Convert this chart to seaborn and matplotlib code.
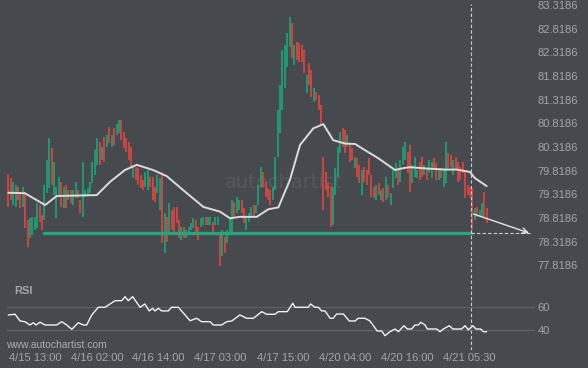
import numpy as np
import matplotlib
matplotlib.use('Agg')
import matplotlib.pyplot as plt
import seaborn as sns

# ── Candle data (30-min bars): high, low, rising(1)/falling(0) ──
highs = [79.74, 79.66, 79.58, 79.51, 79.47, 79.37, 79.47, 79.37, 78.77, 78.82,
         78.84, 78.84, 79.13, 79.09, 78.88, 79.51, 80.04, 80.51, 80.30, 80.00,
         79.47, 79.68, 79.58, 79.47, 79.51, 79.41, 79.41, 79.41, 79.58, 79.41,
         79.20, 80.00, 79.41, 79.45, 79.58, 80.00, 80.25, 80.51, 80.42, 80.32,
         80.53, 80.57, 80.74, 80.57, 80.72, 80.80, 80.89, 80.89, 80.63, 80.51,
         80.42, 80.32, 79.94, 79.89, 79.87, 79.72, 79.62, 79.79, 79.83, 79.68,
         79.68, 79.47, 79.72, 79.66, 79.79, 78.92, 78.84, 79.13, 78.98, 79.05,
         79.05, 78.77, 78.62, 78.62, 78.56, 78.62, 78.71, 78.82, 78.77, 78.62,
         78.82, 78.84, 78.84, 78.84, 78.84, 78.73, 78.84, 78.84, 78.50, 78.56,
         78.41, 78.56, 78.82, 79.20, 79.15, 79.26, 79.20, 79.20, 79.03, 78.82,
         78.92, 79.05, 79.09, 79.09, 79.51, 79.89, 79.79, 79.58, 79.45, 79.41,
         79.47, 80.11, 81.10, 81.63, 82.37, 82.47, 82.73, 83.06, 82.94, 82.47,
         82.54, 82.52, 82.47, 82.37, 81.84, 82.09, 81.94, 81.56, 81.48, 81.41,
         81.20, 80.11, 79.79, 79.56, 79.47, 79.47, 79.87, 80.32, 80.63, 80.72,
         80.68, 80.57, 80.40, 80.30, 80.11, 80.08, 79.94, 79.83, 79.89, 79.83,
         80.08, 79.72, 79.47, 79.51, 79.56, 79.41, 79.45, 79.68, 79.51, 79.34,
         79.83, 79.98, 79.87, 80.04, 80.32, 80.42, 80.21, 80.36, 79.94, 80.11,
         79.83, 80.00, 80.11, 79.94, 79.87, 80.04, 80.00, 80.08, 79.98, 79.83,
         79.87, 79.83, 80.42, 80.19, 80.15, 80.04, 80.11, 80.00, 79.89, 80.00,
         79.83, 79.51, 79.47, 79.45, 79.03, 79.05, 78.98, 79.13, 79.37, 79.03]
lows = [79.05, 79.20, 79.09, 79.05, 79.20, 79.03, 79.05, 78.60, 78.20, 78.39,
        78.46, 78.56, 78.60, 78.73, 78.56, 78.77, 79.34, 79.45, 79.51, 79.30,
        78.82, 79.30, 79.05, 79.03, 79.03, 79.20, 79.13, 79.09, 79.24, 79.24,
        78.92, 78.84, 79.26, 79.30, 79.34, 79.56, 79.72, 79.94, 79.94, 80.04,
        80.00, 80.32, 80.40, 80.32, 80.36, 80.57, 80.61, 80.46, 80.30, 80.21,
        80.04, 79.87, 79.66, 79.62, 79.51, 79.45, 79.41, 79.47, 79.41, 79.47,
        79.20, 79.15, 79.34, 78.98, 78.29, 78.07, 78.31, 78.52, 78.56, 78.50,
        78.71, 78.39, 78.35, 78.39, 78.39, 78.46, 78.56, 78.60, 78.50, 78.35,
        78.62, 78.67, 78.67, 78.67, 78.67, 78.50, 78.67, 78.67, 77.80, 78.01,
        78.08, 78.29, 78.50, 78.52, 78.84, 78.92, 78.98, 78.92, 78.71, 78.56,
        78.73, 78.84, 78.84, 78.92, 79.09, 79.47, 79.47, 79.26, 79.20, 79.09,
        79.20, 79.41, 80.11, 80.61, 81.10, 81.56, 82.01, 82.43, 82.20, 82.05,
        82.16, 82.11, 82.11, 81.88, 81.46, 81.63, 81.37, 81.27, 81.31, 81.10,
        80.78, 78.98, 79.41, 79.26, 78.62, 78.67, 79.30, 79.68, 80.19, 80.32,
        80.19, 80.32, 80.00, 80.04, 79.87, 79.68, 79.56, 79.30, 79.58, 79.51,
        79.72, 79.26, 79.24, 79.20, 79.30, 79.20, 79.15, 79.20, 79.24, 79.09,
        79.45, 79.66, 79.51, 79.58, 79.94, 80.04, 79.77, 79.37, 79.56, 79.68,
        79.66, 79.62, 79.68, 79.72, 79.62, 79.77, 79.66, 79.83, 79.62, 79.62,
        79.66, 79.47, 79.56, 79.87, 79.89, 79.72, 79.83, 79.58, 79.62, 79.77,
        79.24, 79.30, 79.26, 78.56, 78.77, 78.84, 78.84, 78.84, 78.84, 78.71]
rising = [0, 0, 1, 1, 0, 0, 1, 0, 0, 1, 1, 1, 1, 0, 0, 1, 1, 1, 0, 1,
          1, 1, 0, 1, 0, 1, 0, 1, 1, 0, 0, 1, 1, 1, 1, 1, 1, 1, 0, 1,
          0, 1, 0, 1, 0, 1, 1, 0, 0, 0, 0, 0, 1, 0, 0, 0, 0, 1, 1, 0,
          0, 0, 1, 1, 0, 1, 0, 1, 0, 0, 0, 0, 1, 0, 1, 1, 1, 1, 0, 0,
          1, 1, 0, 1, 1, 0, 1, 1, 0, 1, 0, 1, 1, 1, 0, 1, 1, 0, 0, 1,
          1, 1, 0, 1, 1, 1, 0, 0, 0, 0, 1, 1, 1, 1, 1, 1, 1, 1, 0, 1,
          0, 0, 0, 0, 1, 0, 0, 1, 0, 0, 0, 0, 0, 0, 0, 1, 1, 1, 1, 0,
          0, 1, 0, 0, 1, 0, 0, 1, 0, 0, 0, 0, 0, 1, 0, 1, 0, 1, 0, 1,
          1, 1, 0, 1, 1, 1, 0, 0, 1, 1, 1, 0, 0, 1, 0, 1, 1, 0, 0, 1,
          0, 1, 1, 0, 0, 1, 0, 0, 0, 0, 0, 0, 0, 0, 1, 0, 1, 1, 0, 0]

# moving average (bar index, price)
ma_idx = [0, 6.9, 15.3, 20.1, 36.8, 42.3, 48.5, 53.4, 60.2, 65.9, 72.6, 81.1,
          88.0, 92.2, 96.3, 103.3, 108.1, 112.3, 117.1, 121.3, 126.8, 131.0,
          135.1, 140.0, 144.2, 148.3, 153.8, 160.8, 164.2, 167.0, 174.6, 181.5,
          186.4, 191.9, 194.0, 198.9]
ma_val = [79.35, 79.34, 79.09, 79.28, 79.30, 79.58, 79.83, 79.94, 79.83, 79.70,
          79.41, 79.05, 78.95, 78.81, 78.84, 78.84, 79.00, 79.04, 79.62, 80.36,
          80.71, 80.80, 80.46, 80.39, 80.38, 80.25, 80.08, 79.83, 79.87, 79.89,
          79.86, 79.84, 79.84, 79.79, 79.66, 79.49]

# RSI (bar index, value)
rsi_idx = [0, 2.8, 4.9, 6.9, 9.0, 10.4, 11.5, 13.2, 15.3, 20.1, 22.2, 24.3,
           26.4, 29.1, 31.2, 32.6, 34.7, 37.4, 40.2, 44.4, 47.2, 48.5, 49.9,
           51.7, 54.8, 56.8, 58.6, 60.0, 61.0, 62.4, 63.8, 66.5, 67.9, 70.7,
           75.6, 78.3, 80.4, 83.9, 85.2, 88.7, 90.8, 92.9, 96.3, 99.1, 101.9,
           105.4, 107.4, 110.9, 112.3, 116.0, 118.3, 119.2, 124.7, 125.7, 127.5,
           128.9, 130.3, 131.7, 133.8, 135.1, 136.5, 139.3, 141.8, 144.2, 145.5,
           148.3, 150.4, 153.4, 155.3, 156.6, 158.7, 160.8, 162.2, 164.5, 165.9,
           167.7, 169.1, 170.5, 171.5, 173.3, 174.2, 178.1, 179.5, 180.9, 183.4,
           184.8, 188.5, 189.9, 191.3, 193.1, 194.5, 196.4, 197.5, 198.9]
rsi_val = [53.0, 53.6, 47.9, 47.3, 44.5, 46.4, 44.5, 46.8, 44.5, 44.5, 47.3, 44.5,
           40.8, 46.4, 44.5, 44.5, 53.0, 59.5, 59.5, 65.1, 65.1, 68.5, 65.1,
           68.5, 59.5, 62.3, 56.4, 58.6, 56.4, 58.6, 56.4, 56.4, 59.5, 59.5,
           48.1, 50.2, 47.3, 47.3, 44.5, 44.5, 47.3, 47.9, 53.0, 50.2, 50.2,
           55.8, 53.6, 53.6, 55.8, 55.8, 62.9, 59.5, 59.5, 62.3, 59.5,
           59.5, 56.4, 56.4, 50.2, 50.2, 53.8, 53.8, 47.9, 47.9, 50.2,
           50.2, 47.9, 39.4, 39.4, 35.4, 38.8, 41.1, 38.8, 43.9, 41.1,
           41.1, 44.5, 44.5, 46.8, 44.5, 41.1, 41.1, 38.8, 41.1, 43.9,
           41.1, 41.1, 43.9, 40.3, 43.9, 41.1, 41.1, 38.8, 38.8]

price_ticks = [77.8186, 78.3186, 78.8186, 79.3186, 79.8186, 80.3186,
               80.8186, 81.3186, 81.8186, 82.3186, 82.8186, 83.3186]
time_labels = ['4/15 13:00', '4/16 02:00', '4/16 14:00', '4/17 03:00',
               '4/17 15:00', '4/20 04:00', '4/20 16:00', '4/21 05:30']
time_idx = [11.1, 36.9, 62.3, 88.0, 114.2, 140.0, 165.8, 191.8]

support = 78.50
support_start = 15
breakout_idx = 192.3
target_idx = 217.6
target_price = 78.48
arrow_start_price = 78.92

# ── style ──
BG = '#46494e'
TXT = '#a3a6ab'
UP = '#16b07c'
DOWN = '#f0453f'
sns.set_style('dark', {'axes.facecolor': BG, 'figure.facecolor': BG})
plt.rcParams['font.family'] = ['Liberation Sans', 'DejaVu Sans']

fig = plt.figure(figsize=(5.88, 3.68), dpi=100, facecolor=BG)
W, H = 588, 368
ax = fig.add_axes([7 / W, 1 - 272 / H, 528 / W, 268 / H])
ax_rsi = fig.add_axes([7 / W, 1 - 350 / H, 528 / W, 78 / H])
for a in (ax, ax_rsi):
    a.set_facecolor(BG)
    for s in a.spines.values():
        s.set_visible(False)
    a.set_xlim(-0.54, 219.0)
    a.grid(False)

# watermark
ax.text(114.4, 79.56, 'autochartist', color='#55585d', fontsize=14,
        ha='center', va='center', family='DejaVu Sans', zorder=0)

# candles
idx = np.arange(len(highs))
cols = [UP if r else DOWN for r in rising]
ax.vlines(idx, lows, highs, colors=cols, lw=1.1, zorder=2)

# support line
ax.plot([support_start, breakout_idx], [support, support], color='#26a67c', lw=2.4, zorder=3)
ax.plot([breakout_idx, target_idx], [support, support], color='#d0d0d0', lw=0.8,
        ls=(0, (3, 2)), zorder=3)
ax.annotate('', xy=(target_idx, target_price), xytext=(breakout_idx, arrow_start_price),
            arrowprops=dict(arrowstyle='->', color='#e6e6e6', lw=1.0,
                            mutation_scale=10), zorder=4)

# moving average
sns.lineplot(x=ma_idx, y=ma_val, ax=ax, color='#dcdcdc', lw=1.4, sort=False,
             estimator=None, zorder=4)

ax.set_ylim(77.674, 83.340)
ax.axvline(breakout_idx, color='#cfcfcf', lw=0.8, ls=(0, (3, 2)), zorder=5)
ax.yaxis.tick_right()
ax.set_yticks(price_ticks)
ax.set_yticklabels([f'{v:.4f}' for v in price_ticks])
ax.tick_params(axis='y', length=0, pad=2, labelsize=8, labelcolor=TXT)
ax.tick_params(axis='x', length=0, labelbottom=False)

# RSI panel
ax_rsi.set_ylim(23.3, 89.4)
for lvl in (60, 40):
    ax_rsi.axhline(lvl, color='#5d6065', lw=0.9, zorder=1)
sns.lineplot(x=rsi_idx, y=rsi_val, ax=ax_rsi, color='#f2f2f2', lw=1.0, sort=False,
             estimator=None, zorder=3)
ax_rsi.axvline(breakout_idx, color='#cfcfcf', lw=0.8, ls=(0, (3, 2)), zorder=5)
ax_rsi.yaxis.tick_right()
ax_rsi.set_yticks([60, 40])
ax_rsi.set_yticklabels(['60', '40'])
ax_rsi.tick_params(axis='y', length=0, pad=2, labelsize=8, labelcolor=TXT)
ax_rsi.set_xticks(time_idx)
ax_rsi.set_xticklabels(time_labels)
ax_rsi.tick_params(axis='x', length=0, pad=2, labelsize=8, labelcolor=TXT)
ax_rsi.set_xlabel('')
ax_rsi.set_ylabel('')
ax.set_xlabel('')
ax.set_ylabel('')

fig.text(14 / W, 1 - 291 / H, 'RSI', color=TXT, fontsize=8, fontweight='bold',
         ha='left', va='center')
fig.text(6 / W, 1 - 345 / H, 'www.autochartist.com', color='#a9acb0', fontsize=7.5,
         ha='left', va='center')

fig.savefig('out.png', dpi=100, facecolor=BG)
